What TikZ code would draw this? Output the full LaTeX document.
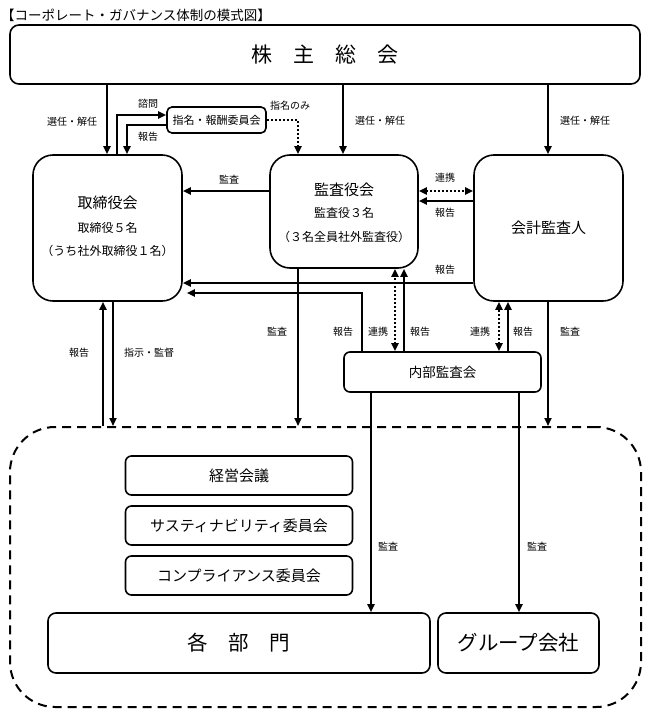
\documentclass[tikz,border=0pt]{standalone}
\usepackage{fontspec}
\setmainfont{Noto Sans CJK JP}
\usetikzlibrary{arrows.meta, positioning}

\begin{document}
\begin{tikzpicture}[x=1pt, y=-1pt,
    box/.style={draw, line width=1.6pt, inner sep=0pt},
    arr/.style={line width=1.8pt, -{Triangle[length=8pt,width=7pt]}},
    dotarr/.style={line width=2pt, dash pattern=on 2pt off 2pt, -{Triangle[length=8pt,width=7pt]}},
    dotdbl/.style={line width=2pt, dash pattern=on 2pt off 2pt, {Triangle[length=8pt,width=7pt]}-{Triangle[length=8pt,width=7pt]}},
    lab/.style={font=\fontsize{10}{12}\selectfont, inner sep=0pt},
    ttl/.style={font=\fontsize{15}{18}\selectfont, inner sep=0pt},
    sub/.style={font=\fontsize{12}{14}\selectfont, inner sep=0pt}]
    \useasboundingbox (0,0) rectangle (648,715);

    % columns and rows of the connectors
    \foreach \n/\v in {cGmBd/107, cAsk/117, cRep/127, cNom/298, cGmKs/343, cGmAu/548,
                       cBdUp/103, cBdDn/113, cIaBd/362, cIaKs/395, cIaKsR/404,
                       cIaAu/499, cIaAuR/508, cIaDp/371, cIaGr/519}
        \coordinate (\n) at (\v,0);
    \foreach \n/\v in {rAsk/115, rRep/125, rAud/191, rAuRep/201, rAuBd/283, rIaBd/293}
        \coordinate (\n) at (0,\v);

    \node[anchor=west, inner sep=0pt, font=\fontsize{13.5}{16}\selectfont] (title) at (1,15) {【コーポレート・ガバナンス体制の模式図】};

    % boxes
    \node[box, rounded corners=9pt, minimum width=630pt, minimum height=59pt,
          font=\fontsize{21}{24}\selectfont] (gm) at (325,54.5) {株　主　総　会};
    \node[box, rounded corners=20pt, minimum width=149pt, minimum height=146pt] (board) at (107.5,228) {};
    \node[ttl] (boardT) at (107.5,203) {取締役会};
    \node[sub] (boardA) at (107.5,228) {取締役５名};
    \node[sub] (boardB) at (107.5,251) {（うち社外取締役１名）};
    \node[box, rounded corners=20pt, minimum width=148pt, minimum height=113pt] (kansa) at (344,211.5) {};
    \node[ttl] (kansaT) at (344,190) {監査役会};
    \node[sub] (kansaA) at (344,213) {監査役３名};
    \node[sub] (kansaB) at (344,237) {（３名全員社外監査役）};
    \node[box, rounded corners=20pt, minimum width=149pt, minimum height=146pt,
          font=\fontsize{15}{18}\selectfont] (audit) at (548.5,228) {会計監査人};
    \node[box, rounded corners=5pt, minimum width=99pt, minimum height=26pt,
          font=\fontsize{11}{13}\selectfont] (nom) at (216.5,120) {指名・報酬委員会};
    \node[box, rounded corners=6pt, minimum width=197pt, minimum height=40pt,
          font=\fontsize{13.5}{16}\selectfont] (ia) at (442.5,372) {内部監査会};

    \node[draw, line width=2pt, dash pattern=on 9pt off 6pt, rounded corners=45pt,
          minimum width=631pt, minimum height=280pt] (company) at (325.5,567) {};
    \node[box, rounded corners=6pt, minimum width=227pt, minimum height=39pt,
          font=\fontsize{15}{18}\selectfont] (mtg) at (239,475.5) {経営会議};
    \node[box, rounded corners=6pt, minimum width=227pt, minimum height=39pt,
          font=\fontsize{15}{18}\selectfont] (sus) at (239,525.5) {サスティナビリティ委員会};
    \node[box, rounded corners=6pt, minimum width=227pt, minimum height=39pt,
          font=\fontsize{15}{18}\selectfont] (cmp) at (239,575.5) {コンプライアンス委員会};
    \node[box, rounded corners=8pt, minimum width=382pt, minimum height=60pt,
          font=\fontsize{20.5}{24}\selectfont] (dept) at (239,643) {各　部　門};
    \node[box, rounded corners=8pt, minimum width=161pt, minimum height=60pt,
          font=\fontsize{20.5}{24}\selectfont] (grp) at (518.5,643) {グループ会社};

    % shareholders
    \draw[arr] (gm.south -| cGmBd) -- (board.north -| cGmBd);
    \draw[arr] (gm.south -| cGmKs) -- (kansa.north -| cGmKs);
    \draw[arr] (gm.south -| cGmAu) -- (audit.north -| cGmAu);
    \node[lab] (l1) at (72,122) {選任・解任};
    \node[lab] (l2) at (380,121) {選任・解任};
    \node[lab] (l3) at (585,121) {選任・解任};

    % nomination committee
    \draw[arr] (board.north -| cAsk) |- (nom.west |- rAsk);
    \draw[arr] (nom.west |- rRep) -| (board.north -| cRep);
    \draw[dotarr] (nom.east) -| (kansa.north -| cNom);
    \node[lab] (l4) at (148,104) {諮問};
    \node[lab] (l5) at (148,137) {報告};
    \node[lab] (l6) at (290,106) {指名のみ};

    % between the boards
    \draw[arr] (kansa.west |- rAud) -- (board.east |- rAud);
    \draw[dotdbl] (kansa.east |- rAud) -- (audit.west |- rAud);
    \draw[arr] (audit.west |- rAuRep) -- (kansa.east |- rAuRep);
    \draw[arr] (audit.west |- rAuBd) -- (board.east |- rAuBd);
    \draw[arr, shorten >=4pt] (ia.north -| cIaBd) |- (board.east |- rIaBd);
    \node[lab] (l7) at (229,180) {監査};
    \node[lab] (l8) at (445,178) {連携};
    \node[lab] (l9) at (445,213) {報告};
    \node[lab] (l10) at (445,270) {報告};

    % internal audit
    \draw[dotdbl] (ia.north -| cIaKs) -- (kansa.south -| cIaKs);
    \draw[arr] (ia.north -| cIaKsR) -- (kansa.south -| cIaKsR);
    \draw[dotdbl] (ia.north -| cIaAu) -- (audit.south -| cIaAu);
    \draw[arr] (ia.north -| cIaAuR) -- (audit.south -| cIaAuR);
    \draw[arr] (ia.south -| cIaDp) -- (dept.north -| cIaDp);
    \draw[arr] (ia.south -| cIaGr) -- (grp.north -| cIaGr);
    \node[lab] (l11) at (343,332) {報告};
    \node[lab] (l12) at (378,332) {連携};
    \node[lab] (l13) at (420,332) {報告};
    \node[lab] (l14) at (480,332) {連携};
    \node[lab] (l15) at (523,332) {報告};
    \node[lab] (l16) at (388,547) {監査};
    \node[lab] (l17) at (537,547) {監査};

    % down to the company
    \draw[arr] (kansa.south -| cNom) -- (company.north -| cNom);
    \draw[arr] (audit.south -| cGmAu) -- (company.north -| cGmAu);
    \draw[arr] (company.north -| cBdUp) -- (board.south -| cBdUp);
    \draw[arr] (board.south -| cBdDn) -- (company.north -| cBdDn);
    \node[lab] (l18) at (277,332) {監査};
    \node[lab] (l19) at (570,332) {監査};
    \node[lab] (l20) at (79,353) {報告};
    \node[lab] (l21) at (149,353) {指示・監督};
\end{tikzpicture}
\end{document}
